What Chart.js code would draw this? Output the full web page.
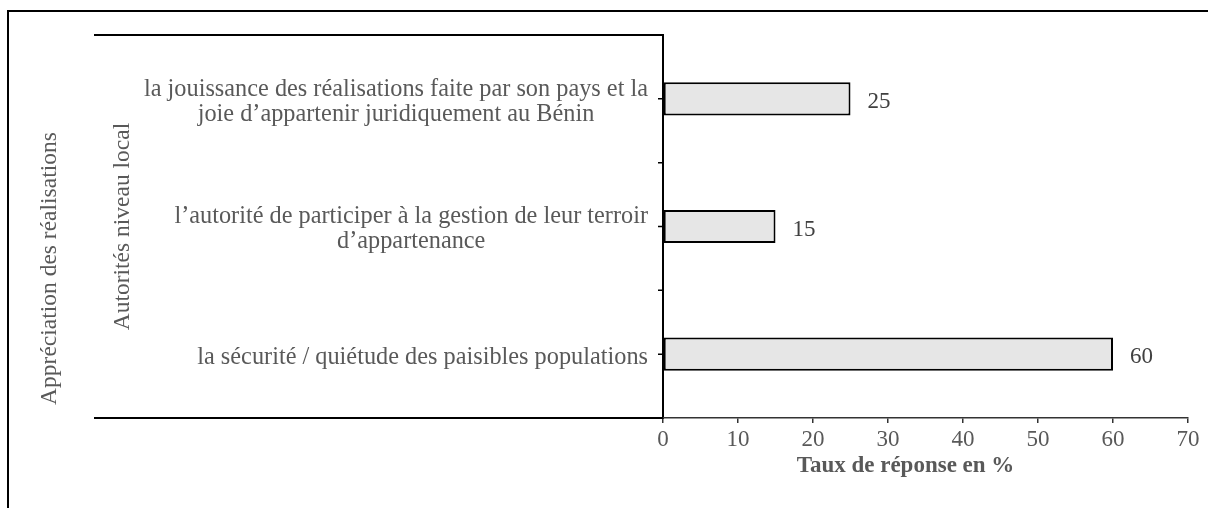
<!DOCTYPE html>
<html>
<head>
<meta charset="utf-8">
<script src="https://cdn.jsdelivr.net/npm/chart.js@4/dist/chart.umd.min.js"></script>
<style>
  body { margin: 0; background: #fff; }
  #wrap { width: 1208px; height: 508px; }
</style>
</head>
<body>
<div id="wrap"><canvas id="chart" width="1208" height="508"></canvas></div>
<script>
// données
const categories = [
    ['la jouissance des réalisations faite par son pays et la', 'joie d’appartenir juridiquement au Bénin'],
    ['l’autorité de participer à la gestion de leur terroir', 'd’appartenance'],
    ['la sécurité / quiétude des paisibles populations']
];
const values = [25, 15, 60];
const xTicks = [0, 10, 20, 30, 40, 50, 60, 70];
const groupLabel = 'Autorités niveau local';
const outerLabel = 'Appréciation des réalisations';
const xTitle = 'Taux de réponse en %';

const SERIF = '"Liberation Serif", "Times New Roman", serif';
const TEXT = '#595959';

// lignes, étiquettes et cadre dessinés autour du graphique
const decorations = {
    id: 'decorations',
    afterDraw(chart) {
        const ctx = chart.ctx;
        const area = chart.chartArea;
        const y = chart.scales.y;
        const x = chart.scales.x;
        const band = Math.abs(y.getPixelForValue(1) - y.getPixelForValue(0));

        ctx.save();

        // cadre extérieur
        ctx.strokeStyle = '#000';
        ctx.lineWidth = 2;
        ctx.beginPath();
        ctx.moveTo(8, 508);
        ctx.lineTo(8, 11);
        ctx.lineTo(1208, 11);
        ctx.stroke();

        // lignes de l'axe multi-niveaux
        ctx.beginPath();
        ctx.moveTo(94, area.top);
        ctx.lineTo(area.left, area.top);
        ctx.moveTo(94, area.bottom);
        ctx.lineTo(area.left, area.bottom);
        ctx.stroke();

        // graduations de l'axe des catégories
        ctx.lineWidth = 1.5;
        ctx.beginPath();
        categories.forEach((c, i) => {
            const cy = y.getPixelForValue(i);
            ctx.moveTo(area.left - 5, cy);
            ctx.lineTo(area.left, cy);
            if (i < categories.length - 1) {
                ctx.moveTo(area.left - 5, cy + band / 2);
                ctx.lineTo(area.left, cy + band / 2);
            }
        });
        ctx.stroke();

        // libellés des catégories
        ctx.fillStyle = TEXT;
        ctx.font = '24.3px ' + SERIF;
        ctx.textBaseline = 'middle';
        ctx.textAlign = 'center';
        const lineH = 25;
        categories.forEach((lines, i) => {
            const w = Math.max(...lines.map(l => ctx.measureText(l).width));
            const cx = area.left - 15 - w / 2;
            const cy = y.getPixelForValue(i) + 3;
            lines.forEach((l, k) => {
                ctx.fillText(l, cx, cy + (k - (lines.length - 1) / 2) * lineH);
            });
        });

        // titres verticaux
        ctx.font = '23.5px ' + SERIF;
        const mid = (area.top + area.bottom) / 2;
        ctx.save();
        ctx.translate(123, mid);
        ctx.rotate(-Math.PI / 2);
        ctx.fillText(groupLabel, 0, 0);
        ctx.restore();
        ctx.save();
        ctx.translate(50, mid + 42);
        ctx.rotate(-Math.PI / 2);
        ctx.fillText(outerLabel, 0, 0);
        ctx.restore();

        // valeurs des barres
        ctx.fillStyle = '#404040';
        ctx.textAlign = 'left';
        ctx.font = '23px ' + SERIF;
        values.forEach((v, i) => {
            ctx.fillText(String(v), x.getPixelForValue(v) + 17, y.getPixelForValue(i) + 3);
        });

        // titre de l'axe horizontal
        ctx.fillStyle = TEXT;
        ctx.textAlign = 'center';
        ctx.font = 'bold 23px ' + SERIF;
        ctx.fillText(xTitle, (area.left + area.right) / 2 - 20, 466);

        ctx.restore();
    }
};

const chart = new Chart(document.getElementById('chart'), {
    type: 'bar',
    data: {
        labels: categories,
        datasets: [{
            data: values,
            backgroundColor: '#e6e6e6',
            borderColor: '#000',
            borderWidth: 2,
            borderSkipped: false,
            categoryPercentage: 1,
            barPercentage: 0.26
        }]
    },
    options: {
        indexAxis: 'y',
        responsive: false,
        animation: false,
        devicePixelRatio: 1,
        layout: { padding: { left: 0, right: 20, top: 35, bottom: 0 } },
        plugins: {
            legend: { display: false },
            tooltip: { enabled: false }
        },
        scales: {
            y: {
                type: 'category',
                afterFit: s => { s.width = 663; },
                ticks: { display: false },
                grid: { display: false },
                border: { display: true, color: '#000', width: 2 }
            },
            x: {
                min: 0,
                max: 70,
                afterFit: s => { s.height = 90; },
                afterBuildTicks: s => { s.ticks = xTicks.map(v => ({ value: v })); },
                ticks: {
                    color: TEXT,
                    padding: 3,
                    font: { family: SERIF, size: 23 }
                },
                grid: {
                    display: true,
                    drawOnChartArea: false,
                    drawTicks: true,
                    tickLength: 5,
                    color: '#333',
                    lineWidth: 1.5
                },
                border: { display: true, color: '#333', width: 1.5 }
            }
        }
    },
    plugins: [decorations]
});
</script>
</body>
</html>
